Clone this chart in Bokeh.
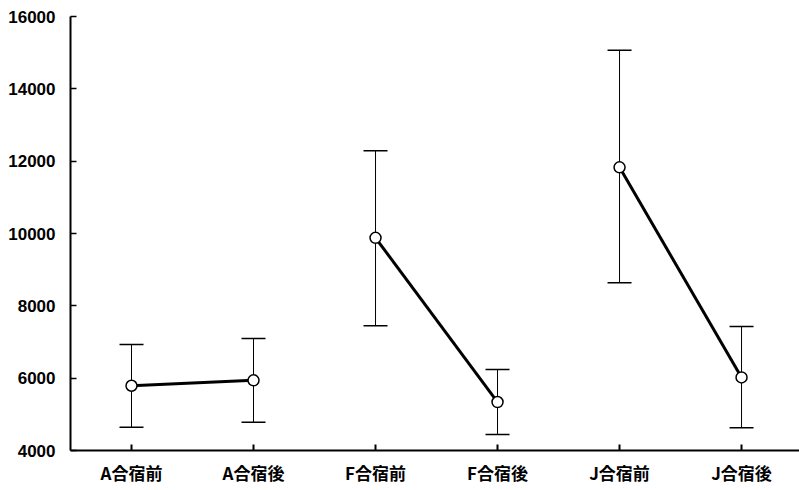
import numpy as np
from bokeh.plotting import figure
from bokeh.models import ColumnDataSource, Whisker, TeeHead, Range1d, FixedTicker
from bokeh.embed import file_html
from bokeh.resources import INLINE

categories = ["A合宿前", "A合宿後", "F合宿前", "F合宿後", "J合宿前", "J合宿後"]
means = [5790, 5940, 9880, 5340, 11830, 6020]
upper = [6930, 7100, 12290, 6240, 15070, 7430]
lower = [4640, 4780, 7450, 4440, 8640, 4630]
groups = [("A合宿前", "A合宿後"), ("F合宿前", "F合宿後"), ("J合宿前", "J合宿後")]
y_ticks = [4000, 6000, 8000, 10000, 12000, 14000, 16000]

xpos = {c: i + 0.5 for i, c in enumerate(categories)}

p = figure(width=799, height=490, output_backend="svg", toolbar_location=None,
           x_range=Range1d(0, 5.975), y_range=Range1d(4000, 16000),
           min_border_left=70, min_border_top=16, min_border_right=0, min_border_bottom=40)
p.outline_line_color = None
p.grid.visible = False
p.background_fill_color = "white"
p.border_fill_color = "white"

src = ColumnDataSource(dict(x=[xpos[c] for c in categories], m=means, up=upper, lo=lower))

w = Whisker(source=src, base="x", upper="up", lower="lo", dimension="height",
            line_color="black", line_width=1, level="underlay",
            upper_head=TeeHead(size=24, line_color="black", line_width=1.5),
            lower_head=TeeHead(size=24, line_color="black", line_width=1.5))
p.add_layout(w)

for a, b in groups:
    ia, ib = categories.index(a), categories.index(b)
    p.line([xpos[a], xpos[b]], [means[ia], means[ib]], line_color="black", line_width=3)

p.scatter("x", "m", source=src, size=11, marker="circle", fill_color="white",
          line_color="black", line_width=1.5)

xa = p.xaxis[0]
xa.ticker = FixedTicker(ticks=[xpos[c] for c in categories])
xa.major_label_overrides = {xpos[c]: c for c in categories}
xa.major_label_text_font = "Noto Sans CJK JP"
xa.major_label_text_font_style = "bold"
xa.major_label_text_font_size = "17px"
xa.major_label_text_color = "black"
xa.major_tick_in = 6
xa.major_tick_out = 0
xa.minor_tick_line_color = None
xa.axis_line_width = 2
xa.axis_line_color = "black"
xa.major_tick_line_color = "black"
xa.major_tick_line_width = 2
xa.major_label_standoff = 9

ya = p.yaxis[0]
ya.ticker = FixedTicker(ticks=y_ticks)
ya.major_label_text_font = "Liberation Sans"
ya.major_label_text_font_style = "bold"
ya.major_label_text_font_size = "17px"
ya.major_label_text_color = "black"
ya.major_tick_in = 6
ya.major_tick_out = 0
ya.minor_tick_line_color = None
ya.axis_line_width = 2
ya.axis_line_color = "black"
ya.major_tick_line_color = "black"
ya.major_tick_line_width = 1.5
ya.major_label_standoff = 15

open("out.html", "w").write(file_html(p, INLINE))
